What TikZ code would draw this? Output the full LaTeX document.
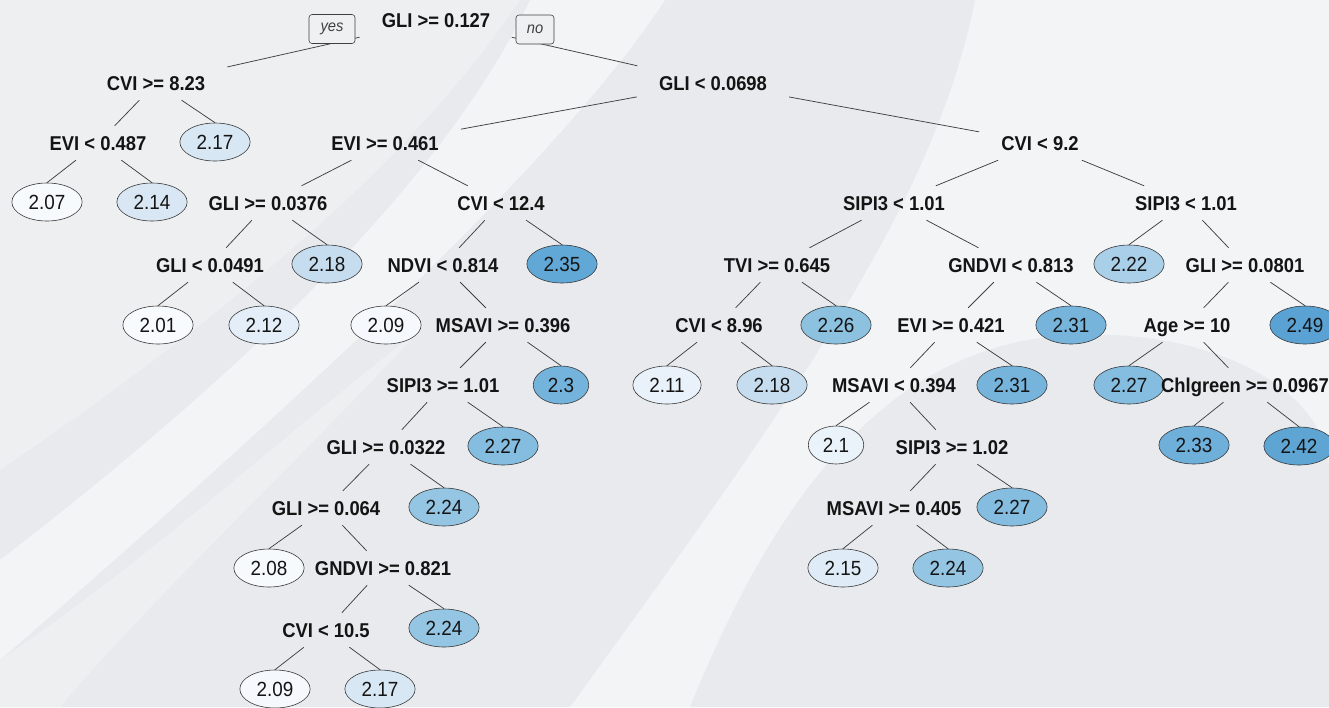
\documentclass[tikz,border=0pt]{standalone}
\usepackage{fontspec}
\setmainfont[FakeStretch=0.92]{Liberation Sans}
\usetikzlibrary{shapes.geometric,calc}
\definecolor{bgbase}{HTML}{F2F4F5}
\definecolor{bgdark}{HTML}{E8EAED}
\definecolor{bgmid}{HTML}{EDEFF1}
\definecolor{ynfill}{HTML}{EEF0F2}
\definecolor{txt}{HTML}{141414}
\definecolor{c201}{HTML}{F8FBFE}
\definecolor{c207}{HTML}{F7FAFD}
\definecolor{c208}{HTML}{F7FAFD}
\definecolor{c209}{HTML}{F5F9FD}
\definecolor{c210}{HTML}{EAF2FA}
\definecolor{c211}{HTML}{E9F2FA}
\definecolor{c212}{HTML}{E3EEF8}
\definecolor{c214}{HTML}{D9E7F4}
\definecolor{c215}{HTML}{DFECF7}
\definecolor{c217}{HTML}{D8E7F4}
\definecolor{c218}{HTML}{C6DCEF}
\definecolor{c222}{HTML}{AACFE8}
\definecolor{c224}{HTML}{94C5E2}
\definecolor{c226}{HTML}{8CC1E0}
\definecolor{c227}{HTML}{84BDE0}
\definecolor{c230}{HTML}{74B3DC}
\definecolor{c231}{HTML}{76B4DC}
\definecolor{c233}{HTML}{6FB0DA}
\definecolor{c235}{HTML}{62A8D6}
\definecolor{c242}{HTML}{5EA5D4}
\definecolor{c249}{HTML}{5AA2D3}
\tikzset{
  split/.style={font=\fontsize{20}{24}\selectfont\bfseries, text=txt, inner xsep=22pt, inner ysep=0pt,
    minimum height=34pt, text height=14.5pt, text depth=0pt},
  leaf/.style={ellipse, draw=black!78, line width=0.6pt, font=\fontsize{20.5}{24}\selectfont, text=txt,
    inner xsep=6.5pt, inner ysep=2pt, minimum height=38pt, text height=14.5pt, text depth=0pt, fill=#1},
  yn/.style={draw=black!75, line width=0.6pt, rounded corners=3pt, fill=ynfill,
    font=\fontsize{16}{18}\selectfont\itshape, text=black!75, minimum height=29pt, inner sep=0pt},
  branch/.style={draw=black!75, line width=0.75pt}
}
\begin{document}
\begin{tikzpicture}[x=1pt,y=-1pt]
\useasboundingbox (0,0) rectangle (1329,707);
% background
\fill[bgbase] (0,0) rectangle (1329,707);
\fill[bgdark] (0,0) -- (975,0) .. controls (935,200) and (800,390) .. (570,707) -- (0,707) -- cycle;
\fill[bgmid] (0,0) -- (520,0) .. controls (420,150) and (250,300) .. (0,470) -- cycle;
\fill[bgbase] (530,0) -- (665,0) .. controls (560,160) and (300,400) .. (0,660) -- (0,560) .. controls (260,360) and (450,170) .. cycle;
\fill[bgmid] (0,700) -- (0,660) .. controls (150,560) and (300,420) .. (420,330) .. controls (300,460) and (150,600) .. (60,707) -- (0,707) -- cycle;
\fill[bgdark] (690,707) .. controls (770,510) and (880,345) .. (1070,335) .. controls (1230,328) and (1329,400) .. (1329,470) -- (1329,707) -- cycle;

% split nodes
\node[split] (n0) at (436,20) {GLI >= 0.127};
\node[split] (n1) at (156,83) {CVI >= 8.23};
\node[split] (n2) at (713,83) {GLI < 0.0698};
\node[split] (n3) at (98,143) {EVI < 0.487};
\node[split] (n4) at (385,143) {EVI >= 0.461};
\node[split] (n5) at (1040,143) {CVI < 9.2};
\node[split] (n6) at (268,203) {GLI >= 0.0376};
\node[split] (n7) at (501,203) {CVI < 12.4};
\node[split] (n8) at (894,203) {SIPI3 < 1.01};
\node[split] (n9) at (1186,203) {SIPI3 < 1.01};
\node[split] (n10) at (210,265) {GLI < 0.0491};
\node[split] (n11) at (443,265) {NDVI < 0.814};
\node[split] (n12) at (777,265) {TVI >= 0.645};
\node[split] (n13) at (1011,265) {GNDVI < 0.813};
\node[split] (n14) at (1245,265) {GLI >= 0.0801};
\node[split] (n15) at (503,325) {MSAVI >= 0.396};
\node[split] (n16) at (719,325) {CVI < 8.96};
\node[split] (n17) at (951,325) {EVI >= 0.421};
\node[split] (n18) at (1187,325) {Age >= 10};
\node[split] (n19) at (443,385) {SIPI3 >= 1.01};
\node[split] (n20) at (894,385) {MSAVI < 0.394};
\node[split] (n22) at (386,447) {GLI >= 0.0322};
\node[split] (n23) at (952,447) {SIPI3 >= 1.02};
\node[split] (n24) at (326,508) {GLI >= 0.064};
\node[split] (n25) at (894,508) {MSAVI >= 0.405};
\node[split] (n26) at (383,568) {GNDVI >= 0.821};
\node[split] (n27) at (326,630) {CVI < 10.5};

% leaves
\node[leaf=c217] (l1) at (215,142) {2.17};
\node[leaf=c207] (l2) at (47,202) {2.07};
\node[leaf=c214] (l3) at (152,202) {2.14};
\node[leaf=c218] (l4) at (327,264) {2.18};
\node[leaf=c235] (l5) at (562,264) {2.35};
\node[leaf=c222] (l6) at (1129,264) {2.22};
\node[leaf=c201] (l7) at (158,325) {2.01};
\node[leaf=c212] (l8) at (264,325) {2.12};
\node[leaf=c209] (l9) at (386,325) {2.09};
\node[leaf=c226] (l10) at (836,325) {2.26};
\node[leaf=c231] (l11) at (1071,325) {2.31};
\node[leaf=c249] (l12) at (1305,325) {2.49};
\node[leaf=c230] (l13) at (561,385) {2.3};
\node[leaf=c211] (l14) at (667,385) {2.11};
\node[leaf=c218] (l15) at (772,385) {2.18};
\node[leaf=c231] (l16) at (1012,385) {2.31};
\node[leaf=c227] (l17) at (1129,385) {2.27};
\node[leaf=c227] (l18) at (503,446) {2.27};
\node[leaf=c210] (l19) at (836,445) {2.1};
\node[leaf=c233] (l20) at (1194,445) {2.33};
\node[leaf=c242] (l21) at (1299,446) {2.42};
\node[leaf=c224] (l22) at (444,507) {2.24};
\node[leaf=c227] (l23) at (1012,507) {2.27};
\node[leaf=c208] (l24) at (269,568) {2.08};
\node[leaf=c215] (l25) at (843,568) {2.15};
\node[leaf=c224] (l26) at (948,568) {2.24};
\node[leaf=c224] (l27) at (444,628) {2.24};
\node[leaf=c209] (l28) at (275,689) {2.09};
\node[leaf=c217] (l29) at (380,689) {2.17};

% Chlgreen label drawn after the leaf 2.27 so it sits on top
\node[split] (n21) at (1245,385) {Chlgreen >= 0.0967};

% branches
\draw[branch] (n0) -- (n1);
\draw[branch] (n0) -- (n2);
\draw[branch] (n1) -- (n3);
\draw[branch] (n1) -- (l1.north);
\draw[branch] (n3) -- (l2.north);
\draw[branch] (n3) -- (l3.north);
\draw[branch] (n2) -- (n4);
\draw[branch] (n2) -- (n5);
\draw[branch] (n4) -- (n6);
\draw[branch] (n4) -- (n7);
\draw[branch] (n6) -- (n10);
\draw[branch] (n6) -- (l4.north);
\draw[branch] (n10) -- (l7.north);
\draw[branch] (n10) -- (l8.north);
\draw[branch] (n7) -- (n11);
\draw[branch] (n7) -- (l5.north);
\draw[branch] (n11) -- (l9.north);
\draw[branch] (n11) -- (n15);
\draw[branch] (n15) -- (n19);
\draw[branch] (n15) -- (l13.north);
\draw[branch] (n19) -- (n22);
\draw[branch] (n19) -- (l18.north);
\draw[branch] (n22) -- (n24);
\draw[branch] (n22) -- (l22.north);
\draw[branch] (n24) -- (l24.north);
\draw[branch] (n24) -- (n26);
\draw[branch] (n26) -- (n27);
\draw[branch] (n26) -- (l27.north);
\draw[branch] (n27) -- (l28.north);
\draw[branch] (n27) -- (l29.north);
\draw[branch] (n5) -- (n8);
\draw[branch] (n5) -- (n9);
\draw[branch] (n8) -- (n12);
\draw[branch] (n8) -- (n13);
\draw[branch] (n12) -- (n16);
\draw[branch] (n12) -- (l10.north);
\draw[branch] (n16) -- (l14.north);
\draw[branch] (n16) -- (l15.north);
\draw[branch] (n13) -- (n17);
\draw[branch] (n13) -- (l11.north);
\draw[branch] (n17) -- (n20);
\draw[branch] (n17) -- (l16.north);
\draw[branch] (n20) -- (l19.north);
\draw[branch] (n20) -- (n23);
\draw[branch] (n23) -- (n25);
\draw[branch] (n23) -- (l23.north);
\draw[branch] (n25) -- (l25.north);
\draw[branch] (n25) -- (l26.north);
\draw[branch] (n9) -- (l6.north);
\draw[branch] (n9) -- (n14);
\draw[branch] (n14) -- (n18);
\draw[branch] (n14) -- (l12.north);
\draw[branch] (n18) -- (l17.north);
\draw[branch] (n18) -- (n21);
\draw[branch] (n21) -- (l20.north);
\draw[branch] (n21) -- (l21.north);

% yes / no tags
\node[yn, minimum width=46pt] (yes) at (332,29) {yes};
\node[yn, minimum width=38pt] (no) at (535,29.5) {no};
\end{tikzpicture}
\end{document}
